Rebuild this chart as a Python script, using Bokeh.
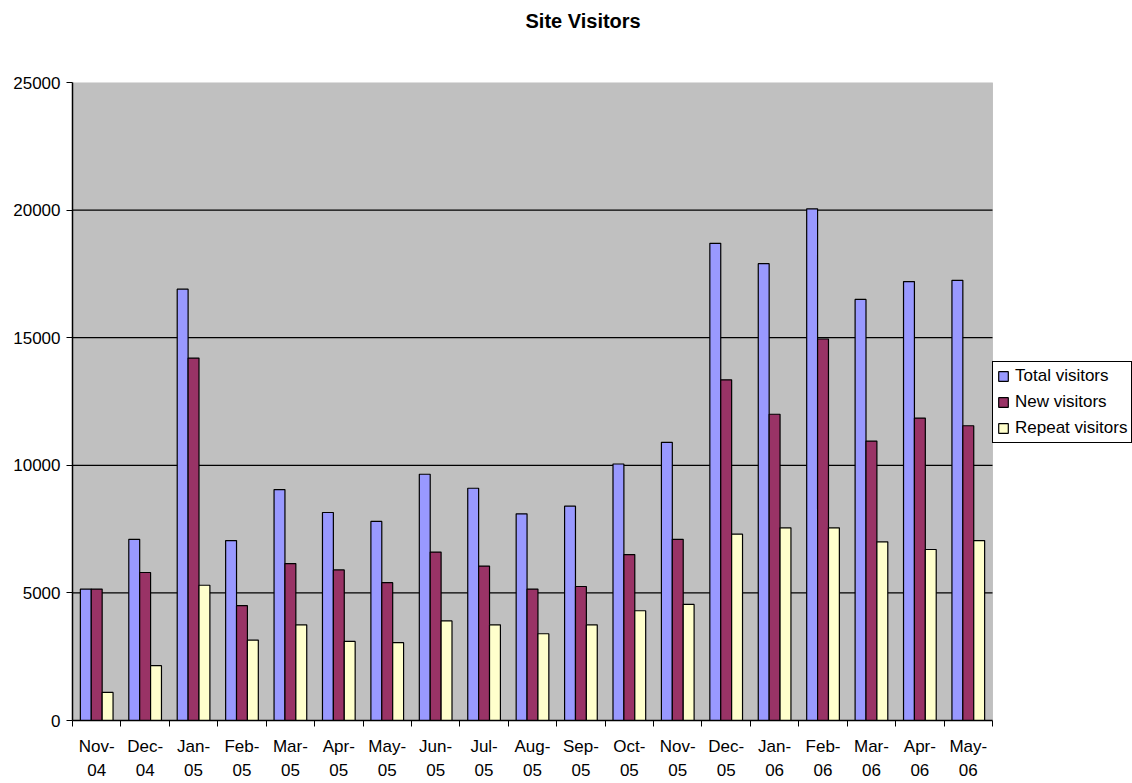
from bokeh.plotting import figure
from bokeh.models import (Range1d, FixedTicker, Legend, LegendItem, ColumnDataSource,
                          BoxAnnotation, Title)
from bokeh.transform import dodge
from bokeh.embed import file_html
from bokeh.resources import INLINE

chart_title = "Site Visitors"
months = ["Nov-\n04", "Dec-\n04", "Jan-\n05", "Feb-\n05", "Mar-\n05", "Apr-\n05", "May-\n05",
          "Jun-\n05", "Jul-\n05", "Aug-\n05", "Sep-\n05", "Oct-\n05", "Nov-\n05", "Dec-\n05",
          "Jan-\n06", "Feb-\n06", "Mar-\n06", "Apr-\n06", "May-\n06"]
total_visitors = [5150, 7100, 16900, 7050, 9050, 8150, 7800, 9650, 9100, 8100, 8400,
                  10050, 10900, 18700, 17900, 20050, 16500, 17200, 17250]
new_visitors = [5150, 5800, 14200, 4500, 6150, 5900, 5400, 6600, 6050, 5150, 5250,
                6500, 7100, 13350, 12000, 14950, 10950, 11850, 11550]
repeat_visitors = [1100, 2150, 5300, 3150, 3750, 3100, 3050, 3900, 3750, 3400, 3750,
                   4300, 4550, 7300, 7550, 7550, 7000, 6700, 7050]
series_names = ["Total visitors", "New visitors", "Repeat visitors"]
y_ticks = [0, 5000, 10000, 15000, 20000, 25000]

FONT = "Liberation Sans"
colors = ["#9999FF", "#993366", "#FFFFCC"]

n = len(months)
idx = list(range(n))
src = ColumnDataSource(dict(x=idx, total=total_visitors, new=new_visitors, rep=repeat_visitors))

# layout: plot area 920px wide for the categories, legend area to its right
W, H = 1132, 783
left_border, top_border, bottom_border = 72, 82, 62
area_w = 920
frame_w = W - left_border
x_end = -0.5 + n * frame_w / area_w

p = figure(width=W, height=H, output_backend="svg", toolbar_location=None,
           x_range=Range1d(-0.5, x_end), y_range=Range1d(y_ticks[0], y_ticks[-1]),
           min_border_left=left_border, min_border_top=top_border,
           min_border_bottom=bottom_border, min_border_right=0,
           background_fill_color="white", border_fill_color="white",
           outline_line_color=None)

# spacer above the plot area, then the chart title on top of it
p.add_layout(Title(text=" ", text_font_size="10px", standoff=38), "above")
p.title.text = chart_title
p.title.text_font = FONT
p.title.text_font_size = "20px"
p.title.text_font_style = "bold"
p.title.text_color = "black"
p.title.align = "left"
p.title.offset = 453
p.title.vertical_align = "bottom"
p.title.standoff = 0

# grey plot area
p.add_layout(BoxAnnotation(left=-0.5, right=n - 0.5, bottom=y_ticks[0], top=y_ticks[-1],
                           fill_color="#C0C0C0", fill_alpha=1,
                           line_color="#808080", line_width=1, level="underlay"))

# horizontal gridlines restricted to the plot area
grid_vals = y_ticks[1:-1]
p.segment(x0=[-0.5] * len(grid_vals), x1=[n - 0.5] * len(grid_vals),
          y0=grid_vals, y1=grid_vals, line_color="black", line_width=1.2)

bw = 0.225
r1 = p.vbar(x=dodge("x", -bw, range=p.x_range), top="total", width=bw, source=src,
            fill_color=colors[0], line_color="black", line_width=1.2)
r2 = p.vbar(x=dodge("x", 0, range=p.x_range), top="new", width=bw, source=src,
            fill_color=colors[1], line_color="black", line_width=1.2)
r3 = p.vbar(x=dodge("x", bw, range=p.x_range), top="rep", width=bw, source=src,
            fill_color=colors[2], line_color="black", line_width=1.2)

# axes
xa = p.xaxis[0]
xa.bounds = (-0.5, n - 0.5)
xa.ticker = FixedTicker(ticks=idx, minor_ticks=[i - 0.5 for i in range(n + 1)])
xa.major_label_overrides = {i: m for i, m in zip(idx, months)}
xa.major_tick_out = 0
xa.major_tick_in = 0
xa.minor_tick_out = 6
xa.minor_tick_in = 0
xa.minor_tick_line_color = "black"
xa.axis_line_color = "black"
xa.axis_line_width = 1.5
xa.major_label_text_font = FONT
xa.major_label_text_font_size = "17px"
xa.major_label_text_color = "black"
xa.major_label_text_line_height = 1.3
xa.major_label_standoff = 10

ya = p.yaxis[0]
ya.ticker = FixedTicker(ticks=y_ticks)
ya.major_tick_out = 6
ya.major_tick_in = 0
ya.minor_tick_out = 0
ya.minor_tick_in = 0
ya.axis_line_color = "black"
ya.axis_line_width = 1.5
ya.major_tick_line_color = "black"
ya.major_label_text_font = FONT
ya.major_label_text_font_size = "17px"
ya.major_label_text_color = "black"
ya.major_label_standoff = 6

p.xgrid.visible = False
p.ygrid.visible = False

legend = Legend(items=[LegendItem(label=series_names[0], renderers=[r1]),
                       LegendItem(label=series_names[1], renderers=[r2]),
                       LegendItem(label=series_names[2], renderers=[r3])],
                location=(area_w, 277), margin=0, padding=4, spacing=6,
                glyph_width=12, glyph_height=12, label_standoff=6,
                label_text_font=FONT, label_text_font_size="17px", label_text_color="black",
                border_line_color="black", border_line_width=1.5, border_line_alpha=1,
                background_fill_color="white", background_fill_alpha=1)
p.add_layout(legend)

open("out.html", "w").write(file_html(p, INLINE))
